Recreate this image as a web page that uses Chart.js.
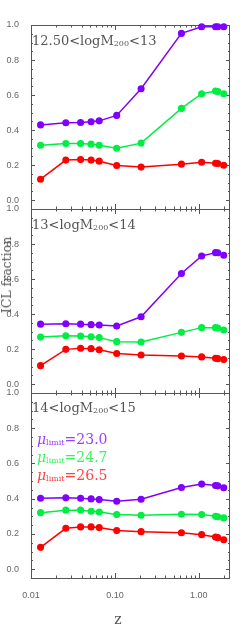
<!DOCTYPE html>
<html>
<head>
<meta charset="utf-8">
<script src="https://cdn.jsdelivr.net/npm/chart.js@4.4.1/dist/chart.umd.min.js"></script>
<style>
  body { margin: 0; background: #fff; }
  #wrap { position: relative; width: 249px; height: 630px; overflow: hidden; }
  canvas { position: absolute; left: 0; top: 0; }
  .lbl { position: absolute; font-family: "DejaVu Serif", serif; color: #555; white-space: nowrap; z-index: 5; }
  .sub { font-size: 8px; vertical-align: -1px; }
</style>
</head>
<body>
<div id="wrap">
  <canvas id="c1" width="249" height="630"></canvas>
  <canvas id="c2" width="249" height="630"></canvas>
  <canvas id="c3" width="249" height="630"></canvas>

  <div class="lbl" style="left:32px;top:34px;font-size:13px;line-height:13px">12.50&lt;logM<span class="sub">200</span>&lt;13</div>
  <div class="lbl" style="left:32px;top:218px;font-size:13px;line-height:13px">13&lt;logM<span class="sub">200</span>&lt;14</div>
  <div class="lbl" style="left:32px;top:401px;font-size:13px;line-height:13px">14&lt;logM<span class="sub">200</span>&lt;15</div>

  <div class="lbl" style="left:37px;top:432px;font-size:14px;line-height:15px">
    <div style="color:#9a40ff"><i>μ</i><span class="sub">limit</span>=23.0</div>
    <div style="color:#40f060"><i>μ</i><span class="sub">limit</span>=24.7</div>
    <div style="color:#ff4040"><i>μ</i><span class="sub">limit</span>=26.5</div>
  </div>

  <div class="lbl" style="left:7px;top:275px;font-size:12.5px;line-height:12px;transform:translate(-50%,-50%) rotate(-90deg)">ICL fraction</div>
  <div class="lbl" style="left:118px;top:619px;font-size:14px;transform:translate(-50%,-50%)">z</div>
</div>
<script>
// redshift of each point (shared by all panels)
const zValues = [0.013, 0.026, 0.039, 0.052, 0.065, 0.105, 0.205, 0.62, 1.08, 1.58, 1.68, 1.98];

// 12.50 < logM200 < 13
const p1_23 = [0.430, 0.442, 0.444, 0.448, 0.453, 0.484, 0.636, 0.952, 0.990, 0.990, 0.990, 0.990];
const p1_247 = [0.314, 0.324, 0.324, 0.320, 0.314, 0.297, 0.326, 0.524, 0.608, 0.623, 0.620, 0.608];
const p1_265 = [0.120, 0.229, 0.232, 0.229, 0.223, 0.198, 0.189, 0.206, 0.217, 0.211, 0.210, 0.200];

// 13 < logM200 < 14
const p2_23 = [0.343, 0.345, 0.343, 0.340, 0.338, 0.332, 0.385, 0.632, 0.732, 0.751, 0.750, 0.736];
const p2_247 = [0.269, 0.277, 0.275, 0.271, 0.266, 0.243, 0.241, 0.296, 0.323, 0.323, 0.321, 0.309];
const p2_265 = [0.106, 0.199, 0.205, 0.203, 0.197, 0.175, 0.167, 0.161, 0.156, 0.148, 0.146, 0.141];

// 14 < logM200 < 15
const p3_23 = [0.403, 0.405, 0.403, 0.399, 0.395, 0.386, 0.397, 0.464, 0.483, 0.475, 0.473, 0.462];
const p3_247 = [0.321, 0.335, 0.335, 0.329, 0.325, 0.310, 0.306, 0.312, 0.310, 0.300, 0.298, 0.291];
const p3_265 = [0.124, 0.232, 0.240, 0.240, 0.236, 0.219, 0.213, 0.207, 0.196, 0.183, 0.179, 0.167];

// axis ticks
const xTicks = [0.01, 0.1, 1];
const xMinorTicks = [0.02, 0.03, 0.04, 0.05, 0.06, 0.07, 0.08, 0.09, 0.2, 0.3, 0.4, 0.5, 0.6, 0.7, 0.8, 0.9, 2];
const yTicks = [0, 0.2, 0.4, 0.6, 0.8, 1.0];
const yMinorTicks = [0.05, 0.1, 0.15, 0.25, 0.3, 0.35, 0.45, 0.5, 0.55, 0.65, 0.7, 0.75, 0.85, 0.9, 0.95];

const PURPLE = "#8000ff";
const GREEN = "#00ee44";
const RED = "#ff0000";

function series(vals, color) {
  return {
    data: zValues.map((z, i) => ({ x: z, y: vals[i] })),
    borderColor: color,
    backgroundColor: color,
    pointBackgroundColor: color,
    pointBorderColor: color,
    borderWidth: 1.5,
    pointRadius: 2.8,
    tension: 0,
    clip: false,
  };
}

// frame + inward ticks on all four sides, IDL style
const framePlugin = {
  id: "frame",
  beforeDatasetsDraw(chart) {
    const ctx = chart.ctx;
    const a = chart.chartArea;
    const xs = chart.scales.x;
    const ys = chart.scales.y;
    ctx.save();
    ctx.strokeStyle = "#555";
    ctx.lineWidth = 1;
    ctx.strokeRect(a.left + 0.5, a.top + 0.5, a.right - a.left - 1, a.bottom - a.top);
    ctx.beginPath();
    const tickX = (v, len) => {
      const px = Math.round(xs.getPixelForValue(v)) + 0.5;
      ctx.moveTo(px, a.bottom);
      ctx.lineTo(px, a.bottom - len);
      ctx.moveTo(px, a.top);
      ctx.lineTo(px, a.top + len);
    };
    const tickY = (v, len) => {
      const py = Math.round(ys.getPixelForValue(v)) + 0.5;
      ctx.moveTo(a.left, py);
      ctx.lineTo(a.left + len, py);
      ctx.moveTo(a.right, py);
      ctx.lineTo(a.right - len, py);
    };
    xTicks.forEach(v => tickX(v, 5));
    xMinorTicks.forEach(v => tickX(v, 2.5));
    yTicks.forEach(v => tickY(v, 4));
    yMinorTicks.forEach(v => tickY(v, 2));
    ctx.stroke();
    ctx.restore();
  },
};

function makePanel(id, sets, padTop, padBottom, showX) {
  new Chart(document.getElementById(id), {
    type: "line",
    data: { datasets: sets },
    options: {
      responsive: false,
      animation: false,
      devicePixelRatio: 1,
      layout: { padding: { left: 0, right: 19, top: padTop, bottom: padBottom } },
      plugins: { legend: { display: false }, tooltip: { enabled: false } },
      scales: {
        x: {
          type: "logarithmic",
          min: 0.01,
          max: 2.35,
          display: showX,
          grid: { display: false },
          border: { display: false },
          afterBuildTicks: s => { s.ticks = xTicks.map(v => ({ value: v })); },
          afterFit: s => { s.height = showX ? 52 : 0; },
          ticks: {
            autoSkip: false,
            maxRotation: 0,
            padding: 4,
            color: "#666",
            font: { family: "Liberation Sans", size: 9 },
            callback: v => Number(v).toFixed(2),
          },
        },
        y: {
          min: -0.05,
          max: 1.0,
          grid: { display: false },
          border: { display: false },
          afterBuildTicks: s => { s.ticks = yTicks.map(v => ({ value: v })); },
          afterFit: s => { s.width = 31; },
          ticks: {
            padding: 4,
            color: "#666",
            font: { family: "Liberation Sans", size: 9 },
            callback: v => Number(v).toFixed(1),
          },
        },
      },
    },
    plugins: [framePlugin],
  });
}

makePanel("c1", [series(p1_23, PURPLE), series(p1_247, GREEN), series(p1_265, RED)], 25, 421, false);
makePanel("c2", [series(p2_23, PURPLE), series(p2_247, GREEN), series(p2_265, RED)], 209, 237, false);
makePanel("c3", [series(p3_23, PURPLE), series(p3_247, GREEN), series(p3_265, RED)], 393, 0, true);
</script>
</body>
</html>
